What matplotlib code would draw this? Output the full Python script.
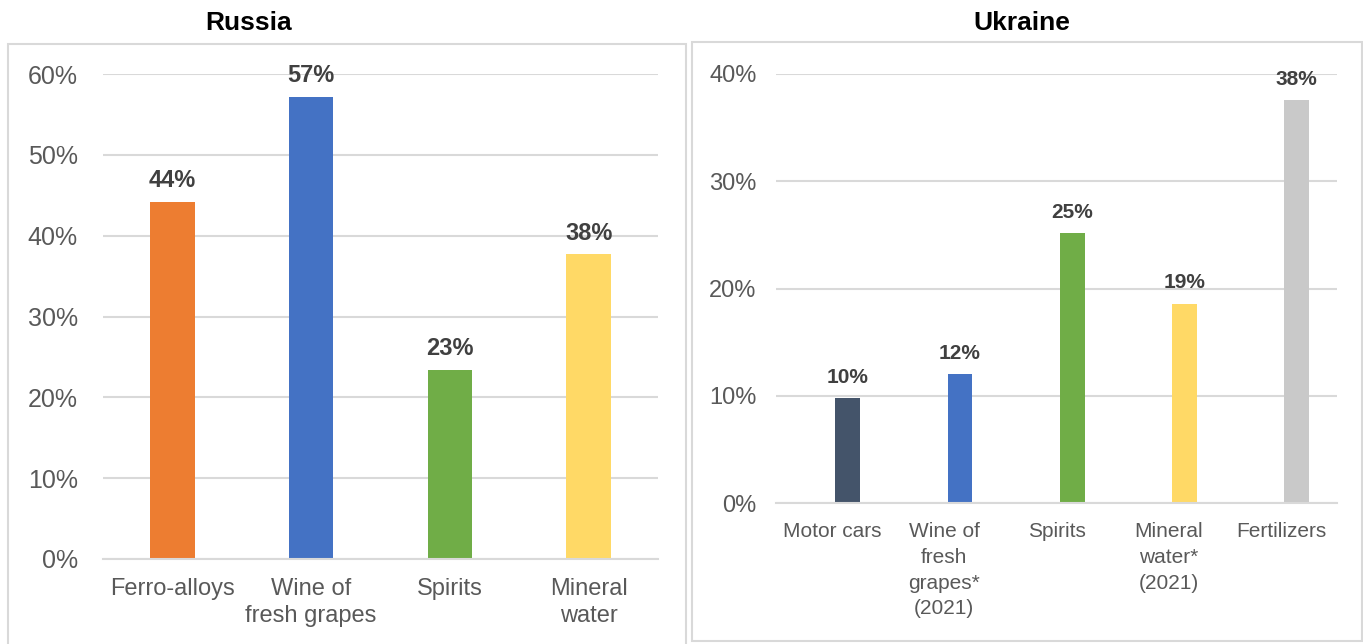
import matplotlib
matplotlib.use("Agg")
import matplotlib.pyplot as plt
from matplotlib.patches import Rectangle
from matplotlib.ticker import PercentFormatter

plt.rcParams['font.family'] = ['Liberation Sans', 'DejaVu Sans']

# Data
ru_categories = ["Ferro-alloys", "Wine of\nfresh grapes", "Spirits", "Mineral\nwater"]
ru_values = [0.442, 0.572, 0.234, 0.377]
ru_labels = ["44%", "57%", "23%", "38%"]
ru_colors = ["#ED7D31", "#4472C4", "#70AD47", "#FFD966"]

ua_categories = ["Motor cars", "Wine of\nfresh\ngrapes*\n(2021)", "Spirits", "Mineral\nwater*\n(2021)", "Fertilizers"]
ua_values = [0.098, 0.120, 0.252, 0.186, 0.376]
ua_labels = ["10%", "12%", "25%", "19%", "38%"]
ua_colors = ["#44546A", "#4472C4", "#70AD47", "#FFD966", "#C9C9C9"]

W, H = 1363, 644
fig = plt.figure(figsize=(W / 100, H / 100), dpi=100)
fig.patch.set_facecolor("white")

def fx(px):
    return px / W

def fy(py):
    return 1 - py / H

# Panel borders
for (x0, y0, x1, y1) in [(8, 44, 686, 650), (692, 42, 1362, 641)]:
    fig.patches.append(Rectangle((fx(x0), fy(y1)), fx(x1) - fx(x0), fy(y0) - fy(y1),
                                 transform=fig.transFigure, fill=False,
                                 edgecolor="#D9D9D9", linewidth=1.5, zorder=0))

def make_panel(box, cats, vals, labels, colors, ymax, width, bar_shift, tsize, ysize,
               lsize, title, title_x, ypad, xpad, lsp, loff):
    x0, y0, x1, y1 = box
    ax = fig.add_axes([fx(x0), fy(y1), fx(x1) - fx(x0), fy(y0) - fy(y1)])
    xs = list(range(len(cats)))
    bx = [x + bar_shift for x in xs]
    ax.bar(bx, vals, width=width, color=colors, zorder=3)
    ax.set_xlim(-0.5, len(cats) - 0.5)
    ax.set_ylim(0, ymax)
    ax.set_yticks([i * 0.1 for i in range(int(round(ymax * 10)) + 1)])
    ax.yaxis.set_major_formatter(PercentFormatter(1.0, decimals=0))
    ax.set_xticks(xs)
    ax.set_xticklabels(cats, fontsize=tsize, color="#595959", linespacing=lsp)
    ax.tick_params(axis='y', labelsize=ysize, colors="#595959", length=0, pad=ypad)
    ax.tick_params(axis='x', length=0, pad=xpad)
    ax.grid(axis='y', color="#D9D9D9", linewidth=1.5, zorder=0)
    ax.set_axisbelow(True)
    for s in ["top", "right", "left"]:
        ax.spines[s].set_visible(False)
    ax.spines["bottom"].set_color("#D9D9D9")
    ax.spines["bottom"].set_linewidth(1.5)
    ax.spines["bottom"].set_zorder(4)
    for x, v, lab in zip(bx, vals, labels):
        ax.annotate(lab, (x, v), xytext=(0, loff), textcoords="offset points",
                    ha="center", va="bottom", fontsize=lsize, fontweight="bold",
                    color="#404040", zorder=5)
    fig.text(fx(title_x), fy(23), title, ha="center", va="center",
             fontsize=19, fontweight="bold", color="black")
    return ax

make_panel((103, 74, 658, 559), ru_categories, ru_values, ru_labels, ru_colors,
           0.6, 0.32, 0.0, 17, 18, 17, "Russia", 249, 18, 14, 1.25, 7)
make_panel((776, 74, 1337, 503), ua_categories, ua_values, ua_labels, ua_colors,
           0.4, 0.22, 0.14, 15, 17, 15, "Ukraine", 1022, 14, 14, 1.44, 8)

fig.savefig("out.png", dpi=100, facecolor="white")
